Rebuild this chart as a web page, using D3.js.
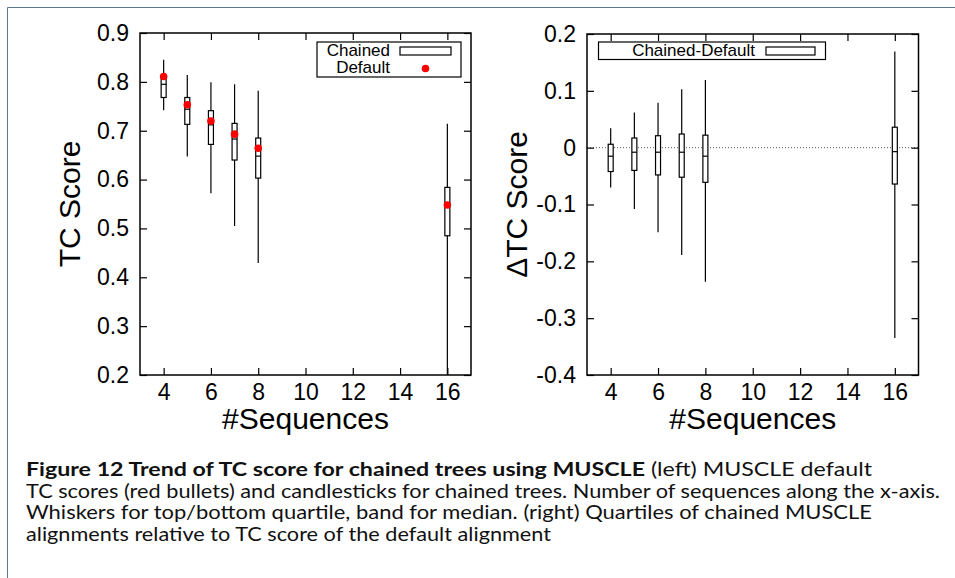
<!DOCTYPE html>
<html>
<head>
<meta charset="utf-8">
<script src="https://cdn.jsdelivr.net/npm/d3@7"></script>
<style>
  body { margin: 0; background: #fff; }
  svg text { font-family: "Liberation Sans", Arial, sans-serif; }
  .caption text { font-family: Lato, "Open Sans", sans-serif; }
</style>
</head>
<body>
<div id="chart"></div>
<script>
var width_chart = 955,
    height_chart = 578;

// number of sequences (x)
var nseq = [4, 5, 6, 7, 8, 16];

// left panel: chained candlesticks + default TC score
var chained_min = [0.742, 0.647, 0.572, 0.505, 0.429, 0.2];
var chained_q1  = [0.768, 0.713, 0.672, 0.640, 0.603, 0.485];
var chained_med = [0.795, 0.744, 0.712, 0.683, 0.648, 0.545];
var chained_q3  = [0.808, 0.768, 0.741, 0.715, 0.685, 0.584];
var chained_max = [0.845, 0.814, 0.799, 0.795, 0.782, 0.714];
var default_tc  = [0.811, 0.753, 0.720, 0.693, 0.664, 0.548];

// right panel: chained - default
var delta_min = [-0.070, -0.108, -0.149, -0.189, -0.236, -0.335];
var delta_q1  = [-0.042, -0.040, -0.048, -0.052, -0.061, -0.064];
var delta_med = [-0.015, -0.008, -0.008, -0.008, -0.015, -0.007];
var delta_q3  = [0.006, 0.017, 0.021, 0.024, 0.022, 0.036];
var delta_max = [0.034, 0.062, 0.079, 0.103, 0.119, 0.169];

var x_ticks = [4, 6, 8, 10, 12, 14, 16];
var left_y_ticks = [0.2, 0.3, 0.4, 0.5, 0.6, 0.7, 0.8, 0.9];
var right_y_ticks = [-0.4, -0.3, -0.2, -0.1, 0, 0.1, 0.2];

var caption_lines = [
  [["Figure 12  Trend of TC score for chained trees using MUSCLE", true], [" (left) MUSCLE default", false]],
  [["TC scores (red bullets) and candlesticks for chained trees. Number of sequences along the x-axis.", false]],
  [["Whiskers for top/bottom quartile, band for median. (right) Quartiles of chained MUSCLE", false]],
  [["alignments relative to TC score of the default alignment", false]]
];
var caption_widths = [846, 914, 846, 525];

var svg = d3.select("#chart").append("svg")
    .attr("width", width_chart)
    .attr("height", height_chart);

// figure frame (top + left edge)
svg.append("path")
  .attr("d", "M7.5,578V7.5H955")
  .attr("fill", "none")
  .attr("stroke", "#5a7795")
  .attr("stroke-width", 1);

function drawPanel(opt) {
  var x = d3.scaleLinear().domain([3, 17]).range([opt.left, opt.right]);
  var y = d3.scaleLinear().domain(opt.ydomain).range([opt.bottom, opt.top]);
  var g = svg.append("g");
  var tickLen = 7;

  if (opt.zero) {
    g.append("line")
      .attr("x1", opt.left).attr("x2", opt.right)
      .attr("y1", y(0)).attr("y2", y(0))
      .attr("stroke", "#555").attr("stroke-width", 1)
      .attr("stroke-dasharray", "1,2");
  }

  // bottom / top axes with inward ticks
  var xb = g.append("g").attr("transform", "translate(0," + opt.bottom + ")")
    .call(d3.axisBottom(x).tickValues(x_ticks).tickSizeInner(-tickLen).tickSizeOuter(0).tickPadding(9));
  var xt = g.append("g").attr("transform", "translate(0," + opt.top + ")")
    .call(d3.axisTop(x).tickValues(x_ticks).tickSizeInner(-tickLen).tickSizeOuter(0).tickFormat(""));
  var yl = g.append("g").attr("transform", "translate(" + opt.left + ",0)")
    .call(d3.axisLeft(y).tickValues(opt.yticks).tickSizeInner(-tickLen).tickSizeOuter(0).tickPadding(11)
      .tickFormat(function(d) { return Math.abs(d) < 1e-9 ? "0" : d3.format(".1f")(d).replace("\u2212", "-"); }));
  var yr = g.append("g").attr("transform", "translate(" + opt.right + ",0)")
    .call(d3.axisRight(y).tickValues(opt.yticks).tickSizeInner(-tickLen).tickSizeOuter(0).tickFormat(""));

  [xb, xt, yl, yr].forEach(function(a) {
    a.select(".domain").remove();
    a.selectAll(".tick line").attr("stroke", "#000").attr("stroke-width", 1.2);
    a.selectAll("text").attr("fill", "#000").style("font-size", "23px")
      .style("font-family", "'Liberation Sans', Arial, sans-serif");
  });

  // legend
  var lg = g.append("g");
  lg.append("rect")
    .attr("x", opt.legend.x).attr("y", opt.legend.y)
    .attr("width", opt.legend.w).attr("height", opt.legend.h)
    .attr("fill", "#fff").attr("stroke", "#000").attr("stroke-width", 1.2);
  lg.append("text")
    .attr("x", opt.legend.textX).attr("y", opt.legend.y + 14)
    .attr("text-anchor", "end").style("font-size", "17px")
    .text(opt.legend.label);
  lg.append("rect")
    .attr("x", opt.legend.sampleX).attr("y", opt.legend.y + 5)
    .attr("width", opt.legend.sampleW).attr("height", 8)
    .attr("fill", "#fff").attr("stroke", "#000").attr("stroke-width", 1.2);
  if (opt.dots) {
    lg.append("text")
      .attr("x", opt.legend.textX).attr("y", opt.legend.y + 31)
      .attr("text-anchor", "end").style("font-size", "17px")
      .text("Default");
    lg.append("circle")
      .attr("cx", opt.legend.sampleX + opt.legend.sampleW / 2)
      .attr("cy", opt.legend.y + 26.5)
      .attr("r", 3.8).attr("fill", "#ff0000");
  }

  // candlesticks
  var cs = g.selectAll("g.candle")
    .data(nseq.map(function(n, i) {
      return { n: n, lo: opt.lo[i], q1: opt.q1[i], med: opt.med[i], q3: opt.q3[i], hi: opt.hi[i] };
    }))
    .enter().append("g").attr("class", "candle");

  cs.append("line")
    .attr("x1", function(d) { return x(d.n); })
    .attr("x2", function(d) { return x(d.n); })
    .attr("y1", function(d) { return y(d.lo); })
    .attr("y2", function(d) { return y(d.hi); })
    .attr("stroke", "#000").attr("stroke-width", 1.2);
  cs.append("rect")
    .attr("x", function(d) { return x(d.n) - 2.5; })
    .attr("width", 5)
    .attr("y", function(d) { return y(d.q3); })
    .attr("height", function(d) { return y(d.q1) - y(d.q3); })
    .attr("fill", "#fff").attr("stroke", "#000").attr("stroke-width", 1.2);
  cs.append("line")
    .attr("x1", function(d) { return x(d.n) - 2.5; })
    .attr("x2", function(d) { return x(d.n) + 2.5; })
    .attr("y1", function(d) { return y(d.med); })
    .attr("y2", function(d) { return y(d.med); })
    .attr("stroke", "#000").attr("stroke-width", 1.2);

  if (opt.dots) {
    g.selectAll("circle.dflt")
      .data(opt.dots)
      .enter().append("circle")
      .attr("class", "dflt")
      .attr("cx", function(d, i) { return x(nseq[i]); })
      .attr("cy", function(d) { return y(d); })
      .attr("r", 3.8)
      .attr("fill", "#ff0000");
  }

  // border
  g.append("rect")
    .attr("x", opt.left).attr("y", opt.top)
    .attr("width", opt.right - opt.left).attr("height", opt.bottom - opt.top)
    .attr("fill", "none").attr("stroke", "#000").attr("stroke-width", 1.5);

  // axis titles
  g.append("text")
    .attr("x", (opt.left + opt.right) / 2).attr("y", 429)
    .attr("text-anchor", "middle").style("font-size", "30px")
    .text("#Sequences");
  g.append("text")
    .attr("transform", "translate(" + opt.ytitleX + "," + ((opt.top + opt.bottom) / 2) + ") rotate(-90)")
    .attr("text-anchor", "middle").style("font-size", "30px")
    .text(opt.ytitle);
}

drawPanel({
  left: 140, right: 471, top: 33, bottom: 375,
  ydomain: [0.2, 0.9], yticks: left_y_ticks,
  lo: chained_min, q1: chained_q1, med: chained_med, q3: chained_q3, hi: chained_max,
  dots: default_tc,
  ytitle: "TC Score", ytitleX: 80,
  legend: { x: 317, y: 42, w: 144, h: 35, textX: 390, sampleX: 400, sampleW: 51, label: "Chained" }
});

drawPanel({
  left: 587, right: 918.5, top: 34, bottom: 375,
  ydomain: [-0.4, 0.2], yticks: right_y_ticks,
  lo: delta_min, q1: delta_q1, med: delta_med, q3: delta_q3, hi: delta_max,
  zero: true,
  ytitle: "\u0394TC Score", ytitleX: 527,
  legend: { x: 598.5, y: 42, w: 227, h: 17.5, textX: 755, sampleX: 766, sampleW: 49, label: "Chained-Default" }
});

// caption
var cap = svg.append("g").attr("class", "caption");
caption_lines.forEach(function(parts, i) {
  var t = cap.append("text")
    .attr("x", 26)
    .attr("y", 476 + i * 21.5)
    .attr("textLength", caption_widths[i])
    .attr("lengthAdjust", "spacingAndGlyphs")
    .style("font-size", "19px")
    .attr("fill", "#111");
  parts.forEach(function(p) {
    t.append("tspan")
      .style("font-weight", p[1] ? "bold" : "normal")
      .text(p[0]);
  });
});
</script>
</body>
</html>
